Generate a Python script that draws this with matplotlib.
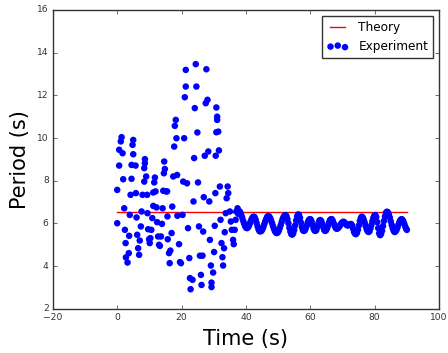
import matplotlib
matplotlib.use("Agg")
import matplotlib.pyplot as plt

# Theory: constant period over the run
theory_time = [0, 90]
theory_period = [6.53, 6.53]

# Experiment: early, noisy part of the run (0 - 37.6 s)
early_time = [
    0.0, 0.0, 0.6, 0.6, 1.1, 1.35, 1.66, 1.86, 2.17, 2.38, 2.6, 2.7, 3.2, 3.6,
    3.7, 3.9, 4.14, 4.45, 4.45, 4.76, 4.97, 4.97, 5.7, 5.8, 6.0, 6.2, 6.5, 6.8,
    7.0, 7.35, 7.56, 7.87, 8.4, 8.4, 8.6, 8.6, 9.0, 9.3, 9.4, 9.6, 9.9, 10.1,
    10.3, 10.6, 10.9, 11.2, 11.2, 11.5, 11.7, 11.9, 12.2, 12.4, 12.7, 13.0,
    13.25, 13.6, 13.9, 14.1, 14.3, 14.5, 14.6, 14.8, 15.1, 15.5, 15.6, 15.7,
    16.1, 16.3, 16.5, 16.9, 17.1, 17.4, 17.7, 17.9, 18.2, 18.4, 18.6, 18.7,
    19.2, 19.5, 19.8, 20.3, 20.5, 20.8, 21.0, 21.3, 21.3, 21.7, 22.0, 22.4,
    22.6, 22.8, 23.4, 23.7, 23.9, 24.1, 24.4, 24.6, 24.9, 25.1, 25.4, 25.7,
    26.0, 26.2, 26.5, 26.7, 26.9, 27.2, 27.5, 27.7, 28.05, 28.3, 28.6, 28.8,
    29.1, 29.3, 29.3, 29.8, 30.1, 30.3, 30.5, 30.6, 30.8, 31.05, 31.05, 30.8,
    31.4, 31.6, 31.9, 32.1, 32.4, 32.7, 32.9, 33.2, 33.4, 33.7, 34.0, 34.3,
    34.5, 35.0, 35.3, 35.6, 36.0, 36.2, 36.5, 36.8, 37.0, 37.4, 37.6,
]
early_period = [
    7.57, 6.01, 8.71, 9.45, 9.84, 10.04, 9.29, 8.07, 6.71, 5.70, 5.08, 4.41,
    4.17, 4.61, 5.42, 6.40, 7.34, 8.09, 8.74, 9.68, 9.24, 9.91, 8.71, 7.42,
    6.28, 5.47, 4.84, 4.53, 5.20, 5.86, 6.56, 7.34, 7.96, 8.59, 9.01, 8.82,
    8.20, 7.34, 6.48, 5.73, 5.26, 5.08, 5.31, 5.70, 6.25, 6.82, 7.45, 7.92,
    8.15, 7.50, 6.75, 6.06, 5.39, 5.00, 4.95, 5.39, 5.98, 6.71, 7.53, 8.35,
    8.90, 8.55, 7.50, 7.50, 6.33, 5.26, 4.61, 4.14, 4.73, 5.55, 6.79, 8.20,
    9.60, 10.57, 10.85, 9.99, 8.27, 6.36, 5.03, 4.19, 4.14, 6.40, 7.96, 9.99,
    11.91, 12.41, 13.19, 7.88, 5.78, 4.38, 3.44, 2.92, 3.36, 7.03, 9.06, 11.40,
    13.46, 12.41, 10.26, 7.92, 5.86, 4.49, 3.59, 3.12, 4.49, 5.62, 7.23, 9.17,
    11.63, 13.22, 11.79, 9.37, 7.03, 5.23, 4.03, 3.02, 3.23, 3.70, 4.66, 5.89,
    7.42, 9.17, 10.27, 10.85, 11.00, 11.43, 10.30, 9.42, 7.73, 6.17, 5.08, 4.42,
    4.03, 4.84, 5.59, 6.48, 7.18, 7.73, 7.42, 6.56, 6.09, 5.70, 5.23, 5.03,
    5.70, 6.17, 6.56, 6.71, 6.45,
]

# Experiment: settled part of the run (37.9 - 90 s)
late_time = [
    37.9, 38.2, 38.5, 38.8, 39.1, 39.4, 39.7, 40.0, 40.3,
    40.6, 40.9, 41.2, 41.5, 41.8, 42.1, 42.4,
    42.7, 43.0, 43.3, 43.6, 43.9, 44.2, 44.5,
    44.8, 45.1, 45.4, 45.7, 46.0, 46.3, 46.6, 46.9,
    47.2, 47.5, 47.8, 48.1, 48.4, 48.7, 49.0, 49.3, 49.6,
    49.9, 50.2, 50.5, 50.8, 51.1, 51.4, 51.7, 52.0, 52.3,
    52.6, 52.9, 53.2, 53.5, 53.8, 54.1, 54.4,
    54.7, 55.0, 55.3, 55.6, 55.9, 56.2,
    56.5, 56.8, 57.1, 57.4, 57.7, 58.0,
    58.3, 58.6, 58.9, 59.2, 59.5, 59.8,
    60.1, 60.4, 60.7, 61.0, 61.3, 61.6,
    61.9, 62.2, 62.5, 62.8, 63.1,
    63.4, 63.7, 64.0, 64.3, 64.6,
    64.9, 65.2, 65.5, 65.8, 66.1, 66.4,
    66.7, 67.0, 67.3, 67.6, 67.9, 68.2,
    68.5, 68.8, 69.1, 69.4, 69.7, 70.0, 70.3,
    70.6, 70.9, 71.2, 71.5, 71.8, 72.1, 72.4, 72.7, 73.0, 73.3, 73.6, 73.9, 74.2,
    74.5, 74.8, 75.1, 75.4, 75.7, 76.0,
    76.3, 76.6, 76.9, 77.2, 77.5, 77.8, 78.1,
    78.4, 78.7, 79.0, 79.3, 79.6, 79.9, 80.2,
    80.5, 80.8, 81.1, 81.4, 81.7,
    82.0, 82.3, 82.6, 82.9, 83.2, 83.5, 83.8,
    84.1, 84.4, 84.7, 85.0, 85.3, 85.6, 85.9, 86.2,
    86.5, 86.8, 87.1, 87.4, 87.7, 88.0, 88.3,
    88.6, 88.9, 89.2, 89.5, 89.8, 90.0,
]
late_period = [
    6.58, 6.53, 6.42, 6.29, 6.14, 6.01, 5.89, 5.81, 5.78,
    5.81, 5.88, 5.99, 6.11, 6.21, 6.29, 6.32,
    6.29, 6.18, 6.03, 5.87, 5.73, 5.64, 5.63,
    5.65, 5.72, 5.83, 5.97, 6.10, 6.21, 6.31, 6.35,
    6.33, 6.26, 6.15, 6.02, 5.88, 5.75, 5.64, 5.57, 5.55,
    5.58, 5.65, 5.78, 5.92, 6.07, 6.21, 6.31, 6.37, 6.39,
    6.34, 6.20, 6.01, 5.80, 5.62, 5.50, 5.48,
    5.54, 5.70, 5.91, 6.14, 6.33, 6.42,
    6.40, 6.26, 6.04, 5.82, 5.68, 5.65,
    5.68, 5.78, 5.90, 6.04, 6.15, 6.20,
    6.19, 6.09, 5.93, 5.77, 5.67, 5.65,
    5.70, 5.85, 6.01, 6.13, 6.16,
    6.11, 5.98, 5.83, 5.70, 5.65,
    5.68, 5.78, 5.90, 6.04, 6.15, 6.20,
    6.20, 6.12, 6.00, 5.88, 5.79, 5.75,
    5.77, 5.81, 5.88, 5.95, 6.01, 6.06, 6.08,
    6.05, 6.00, 5.94, 5.91, 5.91, 5.94, 5.97, 5.97, 5.90, 5.75, 5.60, 5.52, 5.50,
    5.56, 5.71, 5.91, 6.12, 6.26, 6.32,
    6.28, 6.18, 6.04, 5.88, 5.74, 5.64, 5.60,
    5.64, 5.77, 5.93, 6.11, 6.27, 6.37, 6.39,
    6.30, 6.06, 5.78, 5.54, 5.45,
    5.51, 5.66, 5.88, 6.12, 6.33, 6.50, 6.55,
    6.52, 6.43, 6.28, 6.10, 5.93, 5.78, 5.66, 5.60,
    5.63, 5.70, 5.82, 5.95, 6.07, 6.16, 6.20,
    6.18, 6.10, 5.98, 5.85, 5.75, 5.70,
]

exp_time = early_time + late_time
exp_period = early_period + late_period

plt.style.use("classic")

fig = plt.figure(figsize=(4.48, 3.53), dpi=100, facecolor="white")
ax = fig.add_axes([0.118, 0.125, 0.862, 0.847])

ax.plot(theory_time, theory_period, color="red", lw=1, label="Theory")
ax.scatter(exp_time, exp_period, s=22, c="blue", edgecolors="none",
           label="Experiment", zorder=3)

ax.set_xlim(-20, 100)
ax.set_ylim(2, 16)
ax.set_xticks(range(-20, 101, 20))
ax.set_yticks(range(2, 17, 2))
ax.tick_params(direction="in", length=3, labelsize=6.6, pad=3,
               colors="#333333")
for spine in ax.spines.values():
    spine.set_edgecolor("#333333")

ax.set_xlabel("Time (s)", fontsize=15, labelpad=5)
ax.set_ylabel("Period (s)", fontsize=15, labelpad=5)

leg = ax.legend(loc="upper right", fontsize=8.7, scatterpoints=3,
                handlelength=1.8, fancybox=False, borderaxespad=0.5)
leg.get_frame().set_edgecolor("#333333")

fig.savefig("out.png", dpi=100, facecolor="white")
